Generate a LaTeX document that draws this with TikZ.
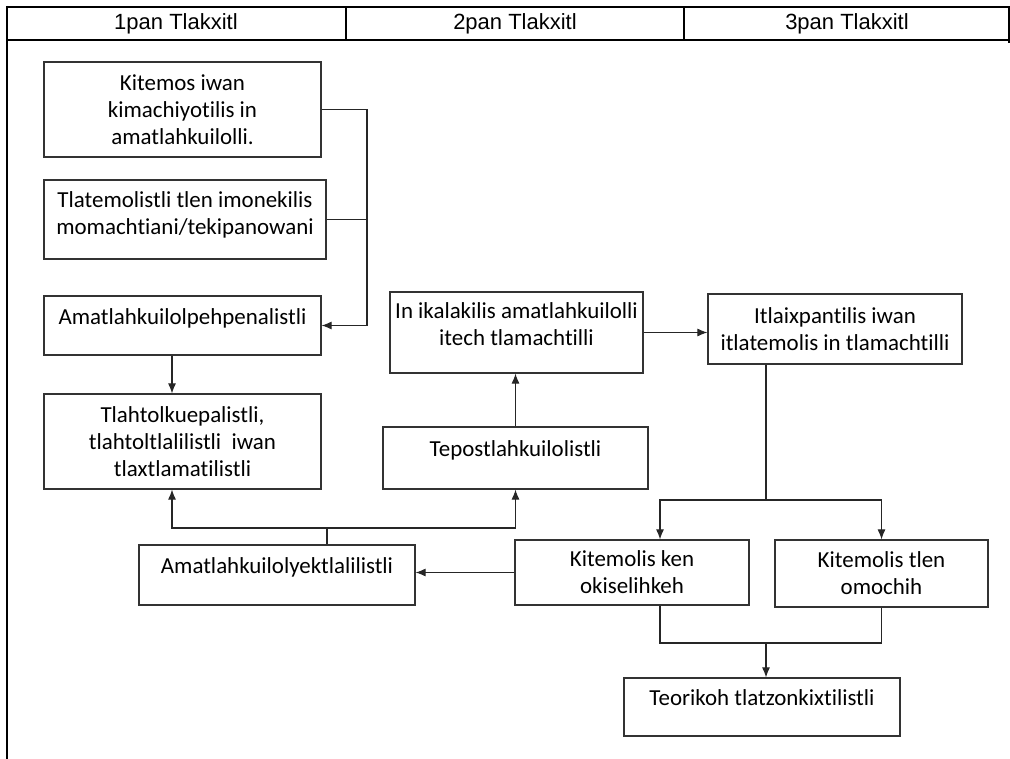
\documentclass[tikz,border=0pt]{standalone}
\usepackage{fontspec}
\setmainfont{Carlito}[Ligatures=NoCommon]
\newfontfamily\headfont{Liberation Sans}
\usetikzlibrary{positioning, arrows.meta}

\begin{document}
\begin{tikzpicture}[x=0.75pt, y=-0.75pt,
      box/.style={draw=black!80, line width=0.9pt, align=center, inner sep=2pt,
          font=\fontsize{17.2}{20.25}\selectfont},
      onebox/.style={box, text depth=14pt},
      sized/.style 2 args={minimum width={#1*0.75pt}, minimum height={#2*0.75pt}},
      head/.style={font=\headfont\fontsize{16.5}{18}\selectfont},
      frame/.style={line width=1.5pt},
      link/.style={draw=black!85, line width=0.8pt},
      arr/.style={link, -{Latex[length=7.5pt, width=6pt]}},
    ]
    \useasboundingbox (0,0) rectangle (1010,759);

    % Table frame and header row
    \draw[frame] (7,7) -- (1010,7);
    \draw[line width=0.8pt] (7,40) -- (1010,40);
    \draw[frame] (346,7) -- (346,40);
    \draw[frame] (684,7) -- (684,40);
    \draw[frame] (7,6) -- (7,759);
    \draw[frame] (1009,7) -- (1009,43);
    \node[head] (col1) at (176,24) {1pan Tlakxitl};
    \node[head] (col2) at (515,24) {2pan Tlakxitl};
    \node[head] (col3) at (847,24) {3pan Tlakxitl};

    % Boxes
    \node[box, sized={277}{95}] (seek) at (182.5,109.5)
      {Kitemos iwan\\kimachiyotilis in\\amatlahkuilolli.};
    \node[box, sized={282}{79}, text depth=10pt] (needs) at (185,219.5)
      {Tlatemolistli tlen imonekilis\\momachtiani/tekipanowani};
    \node[onebox, sized={277}{59}] (pick) at (182.5,325.5)
      {Amatlahkuilolpehpenalistli};
    \node[box, sized={277}{95}] (transl) at (182.5,441.5)
      {Tlahtolkuepalistli,\\tlahtoltlalilistli\ \ iwan\\tlaxtlamatilistli};
    \node[onebox, sized={276}{60}] (edit) at (277,575)
      {Amatlahkuilolyektlalilistli};
    \node[onebox, sized={265}{62}] (typeset) at (515.5,458)
      {Tepostlahkuilolistli};
    \node[box, sized={253}{81}, text depth=13pt] (insert) at (516.5,332.5)
      {In ikalakilis amatlahkuilolli\\itech tlamachtilli};
    \node[box, sized={254}{70}] (present) at (835,329)
      {Itlaixpantilis iwan\\itlatemolis in tlamachtilli};
    \node[box, sized={234}{65}] (how) at (632,572.5)
      {Kitemolis ken\\okiselihkeh};
    \node[box, sized={213}{67}] (what) at (881.5,573.5)
      {Kitemolis tlen\\omochih};
    \node[onebox, sized={276}{58}] (theory) at (762,707)
      {Teorikoh tlatzonkixtilistli};

    % Connectors
    \coordinate (joinAB) at (367,0);
    \coordinate (leftcol) at (172,0);
    \coordinate (howin) at (660,0);
    \coordinate (split) at (327,528);
    \coordinate (fork) at (766,500);
    \coordinate (merge) at (766,643);

    \draw[link] (seek.east) -- (seek.east -| joinAB);
    \draw[link] (needs.east) -- (needs.east -| joinAB);
    \draw[arr] (seek.east -| joinAB) |- (pick.east);
    \draw[arr] (pick.south -| leftcol) -- (transl.north -| leftcol);

    \draw[link] (split |- edit.north) -- (split);
    \draw[arr] (split) -| (transl.south -| leftcol);
    \draw[arr] (split) -| (typeset.south);
    \draw[arr] (typeset.north) -- (typeset.north |- insert.south);
    \draw[arr] (insert.east) -- (insert.east -| present.west);

    \draw[link] (fork |- present.south) -- (fork);
    \draw[arr] (fork) -| (how.north -| howin);
    \draw[arr] (fork) -| (what.north);
    \draw[link] (how.south -| howin) |- (merge);
    \draw[link] (what.south) |- (merge);
    \draw[arr] (merge) -- (merge |- theory.north);
    \draw[arr] (how.west) -- (how.west -| edit.east);
  \end{tikzpicture}
\end{document}
